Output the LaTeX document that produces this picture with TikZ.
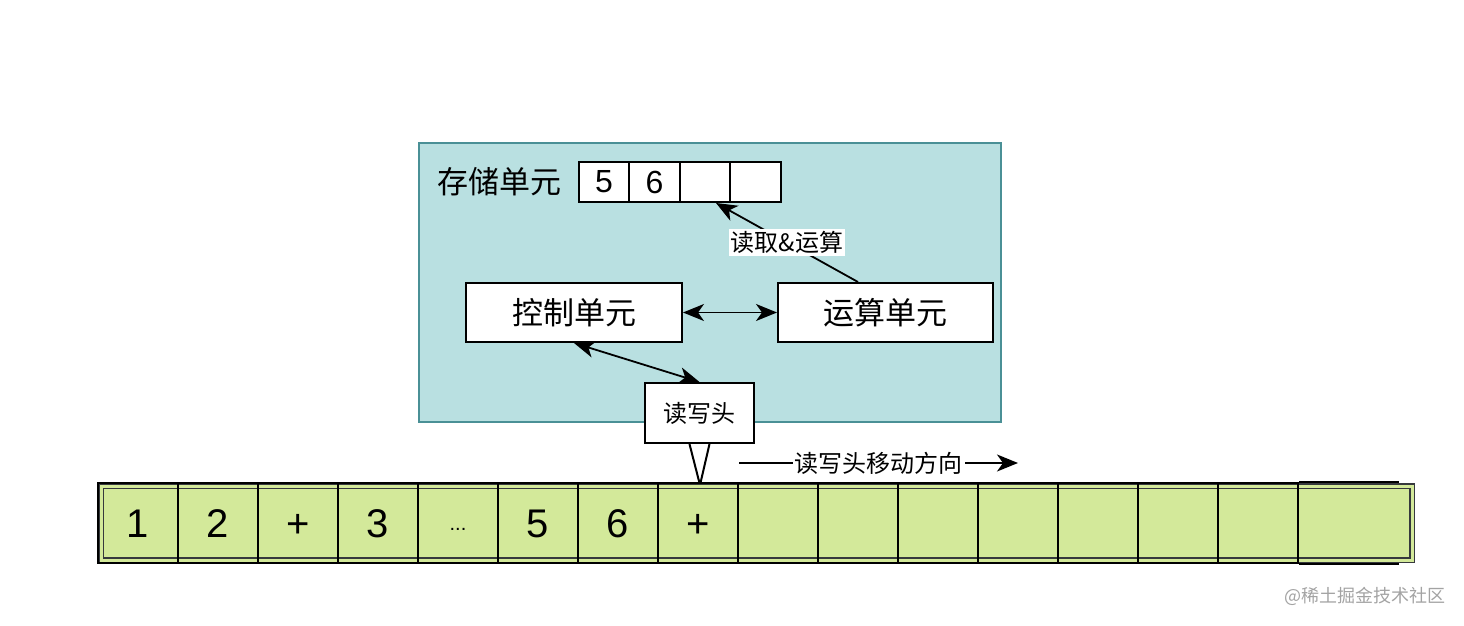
\documentclass[tikz,border=0pt]{standalone}
\usepackage{fontspec}
\setmainfont{Liberation Sans}
\newfontfamily\cjk{Noto Sans CJK SC}
\usetikzlibrary{arrows.meta,positioning}
\definecolor{cpufill}{HTML}{B9E0E1}
\definecolor{cpuline}{HTML}{4A9096}
\definecolor{tapefill}{HTML}{D3E99A}
\definecolor{tapeline}{HTML}{36393D}
\definecolor{markgray}{HTML}{A3A3A3}
\newcommand{\tapedots}{\raisebox{3.5pt}{\fontsize{10}{12}\selectfont...}}

\begin{document}
\begin{tikzpicture}
[x=0.5pt, y=-0.5pt, line width=1pt, >={Stealth[length=10.5pt,width=8.5pt,inset=3pt]},
cpu/.style={rectangle, draw=cpuline, fill=cpufill, minimum width=291pt, minimum height=139.5pt},
unit/.style={rectangle, draw, fill=white, inner sep=0pt, font=\cjk\fontsize{15.5}{18}\selectfont},
memcell/.style={rectangle, draw, fill=white, inner sep=0pt, minimum width=25.25pt, minimum height=20pt, font=\fontsize{16}{19}\selectfont},
tapecell/.style={rectangle, draw, inner sep=0pt, minimum width=40pt, minimum height=40pt, text height=14.3pt, text depth=0pt, font=\fontsize{20}{24}\selectfont},
link/.style={draw, line width=0.9pt},
note/.style={fill=white, inner sep=1pt, font=\cjk\fontsize{12}{14}\selectfont}]

\useasboundingbox (0,0) rectangle (1464,626);

% machine
\node[cpu] (cpu) at (710,282.5) {};
\node[font=\cjk\fontsize{15.5}{18}\selectfont] (memlabel) at (499,182) {存储单元};
\foreach \i/\t in {1/5,2/6,3/{},4/{}}
  \node[memcell] (mem\i) at (604+50.5*\i-50.5,182) {\t};
\node[unit, minimum width=108pt, minimum height=29.5pt] (ctrl) at (574,312.5) {控制单元};
\node[unit, minimum width=107.5pt, minimum height=29.5pt] (alu) at (885.5,312.5) {运算单元};
\node[unit, minimum width=54.5pt, minimum height=30pt, font=\cjk\fontsize{12}{14}\selectfont] (head) at (699.5,413) {读写头};
\coordinate (headtip) at (700,485);
\draw ([xshift=-5pt]head.south) -- (headtip) -- ([xshift=5pt]head.south);

\draw[link, <->] (ctrl) -- (alu);
\draw[link, <->] (ctrl.south) -- (head.north);
\draw[link, ->] ([xshift=-13.75pt]alu.north) -- ([xshift=5.5pt]mem3.south)
  node[note, midway] {读取\&运算};

% tape
\coordinate (moveA) at (739,463);
\coordinate (moveB) at (1018,463);
\draw[link, ->] (moveA) -- (moveB) node[note, midway] {读写头移动方向};

\node[draw=tapeline, fill=tapefill, double=tapefill, double distance=1.5pt, line width=0.9pt,
  minimum width=655.5pt, minimum height=37pt, inner sep=0pt] (tape) at (756.5,523) {};
\foreach \i/\t in {1/1,2/2,3/+,4/3,5/\tapedots,6/5,7/6,8/+,9/{},10/{},11/{},12/{},13/{},14/{},15/{}}
  \node[tapecell] (cell\i) at (138+80*\i-80,523) {\t};
\draw (cell15.north east) -- ++(100,0);
\draw (cell15.south east) -- ++(100,0);

\node[text=markgray, font=\cjk\fontsize{9}{11}\selectfont] (mark) at (1365,596) {@稀土掘金技术社区};
\end{tikzpicture}
\end{document}
